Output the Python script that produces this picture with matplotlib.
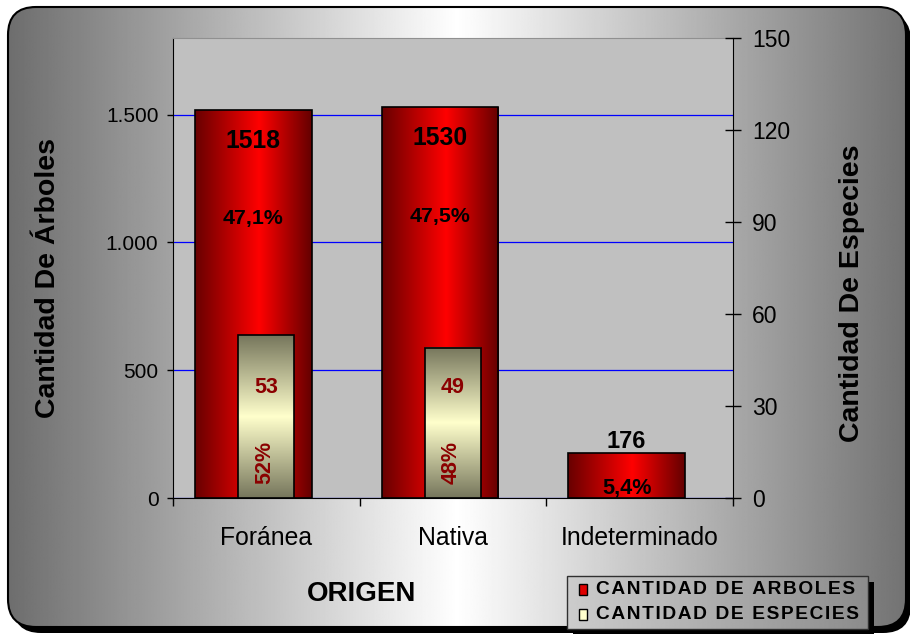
import numpy as np
import matplotlib
matplotlib.use('Agg')
import matplotlib.pyplot as plt
from matplotlib.colors import LinearSegmentedColormap
from matplotlib.patches import FancyBboxPatch, Rectangle

plt.rcParams['font.family'] = ['Liberation Sans', 'DejaVu Sans']

# Data
categories = ['Foránea', 'Nativa', 'Indeterminado']
arboles = [1518, 1530, 176]
arboles_pct = ['47,1%', '47,5%', '5,4%']
especies = [53, 49, 0]
especies_pct = ['52%', '48%', '']
left_ticks = [0, 500, 1000, 1500]
left_tick_labels = ['0', '500', '1.000', '1.500']
right_ticks = [0, 30, 60, 90, 120, 150]

W, H = 910, 634
fig = plt.figure(figsize=(W / 100, H / 100), dpi=100)

# background panel (pixel coords)
bg = fig.add_axes([0, 0, 1, 1], zorder=-1)
bg.axis('off')
shadow = FancyBboxPatch((13, 13), 898, 620, boxstyle='round,pad=0,rounding_size=28',
                        fc='black', ec='none', zorder=1)
bg.add_patch(shadow)
box = FancyBboxPatch((8, 7), 898, 620, boxstyle='round,pad=0,rounding_size=28',
                     fc='none', ec='black', lw=1.5, zorder=3)
bg.add_patch(box)
gx = np.linspace(0, 1, 600)
gv = np.interp(gx, [0, 0.5, 1], [0.43, 1.0, 0.45])
im = bg.imshow(np.tile(gv, (2, 1)), cmap='gray', vmin=0, vmax=1,
               extent=[8, 906, 627, 7], aspect='auto', zorder=2, interpolation='bilinear')
im.set_clip_path(box)

# legend box
lx0, ly0, lx1, ly1 = 567, 576, 868, 629
bg.add_patch(Rectangle((lx0 + 6, ly0 + 6), lx1 - lx0, ly1 - ly0, fc='black', zorder=5))
lv = np.interp(np.linspace(0, 1, 300), [0, 1], [0.80, 0.55])
bg.imshow(np.tile(lv, (2, 1)), cmap='gray', vmin=0, vmax=1,
          extent=[lx0, lx1, ly1, ly0], aspect='auto', zorder=6, interpolation='bilinear')
bg.add_patch(Rectangle((lx0, ly0), lx1 - lx0, ly1 - ly0, fc='none', ec='#303030', lw=1, zorder=7))

def spaced(s):
    return '\u200a'.join(list(s))

for row, (name, col) in enumerate([('CANTIDAD DE ARBOLES', '#e00000'),
                                   ('CANTIDAD DE ESPECIES', '#ffffcc')]):
    yc = 589.5 + row * 25
    bg.add_patch(Rectangle((579, yc - 5.5), 8, 11, fc=col, ec='black', lw=1, zorder=8))
    bg.text(596, yc, spaced(name), ha='left', va='center', fontsize=13.8,
            fontweight='bold', zorder=8)

bg.set_xlim(0, W)
bg.set_ylim(H, 0)

# plot area
ax = fig.add_axes([173 / W, (H - 498) / H, 560 / W, 460 / H])
ax.set_facecolor('#c0c0c0')
ax2 = ax.twinx()

red_cmap = LinearSegmentedColormap.from_list('red', [(0, '#680000'), (0.55, '#ff0000'), (1, '#640000')])
cream_cmap = LinearSegmentedColormap.from_list('cream', [(0, '#76765c'), (0.5, '#ffffcc'), (1, '#76765c')])

def gradient_bar(axis, x, height, width, cmap, vertical, z):
    g = np.linspace(0, 1, 256)
    img = g.reshape(-1, 1) if vertical else g.reshape(1, -1)
    axis.imshow(img, cmap=cmap, extent=[x - width / 2, x + width / 2, 0, height],
                origin='lower', aspect='auto', zorder=z, interpolation='bilinear')
    axis.bar(x, height, width, fc='none', ec='black', lw=1.2, zorder=z + 0.1)

OFF, RW, SW = -0.07, 0.625, 0.30

for i, (v, p) in enumerate(zip(arboles, arboles_pct)):
    xc = i + OFF
    gradient_bar(ax, xc, v, RW, red_cmap, False, 2)
    if v > 500:
        ax.text(xc, v - 120, str(v), ha='center', va='center', fontsize=17.8, fontweight='bold', zorder=5)
        ax.text(xc, v * 0.72, p, ha='center', va='center', fontsize=15.4, fontweight='bold', zorder=5)
    else:
        ax.text(xc, v + 47, str(v), ha='center', va='center', fontsize=17, fontweight='bold', zorder=5)
        ax.text(xc, 41, p, ha='center', va='center', fontsize=15.6, fontweight='bold', zorder=5)

for i, (v, p) in enumerate(zip(especies, especies_pct)):
    if not v:
        continue
    gradient_bar(ax2, i, v, SW, cream_cmap, True, 3)
    ax2.text(i, 36, str(v), ha='center', va='center', fontsize=15.5, fontweight='bold',
             color='#8b0000', zorder=5)
    ax2.text(i - 0.01, 11.5, p, ha='center', va='center', rotation=90, fontsize=15.5,
             fontweight='bold', color='#8b0000', zorder=5)

ax.set_xlim(-0.5, 2.5)
ax.set_ylim(0, 1800)
ax2.set_ylim(0, 150)

ax.set_axisbelow(True)
ax.yaxis.grid(True, color='#0000ff', lw=0.9)
ax.set_xticks([-0.5, 0.5, 1.5, 2.5])
ax.set_xticklabels([])
ax.set_xticks([0, 1, 2], minor=True)
ax.set_xticklabels(categories, minor=True, fontsize=17.8)
ax.tick_params(axis='x', which='major', direction='out', length=6, width=1)
ax.tick_params(axis='x', which='minor', length=0, pad=20)
ax.set_yticks(left_ticks)
ax.set_yticklabels(left_tick_labels)
ax.tick_params(axis='y', direction='out', length=4.5, width=1, pad=6, labelsize=15)
ax2.set_yticks(right_ticks)
ax2.tick_params(axis='y', direction='inout', length=11.5, width=1, pad=8, labelsize=16.5)

ax.spines['right'].set_visible(False)
ax.spines['top'].set_color('#909090')
for s in ['left', 'top', 'bottom']:
    ax2.spines[s].set_visible(False)

fig.text(48 / W, 1 - 278 / H, 'Cantidad De Árboles', rotation=90, ha='center', va='center',
         fontsize=20.5, fontweight='bold')
fig.text(852 / W, 1 - 293 / H, 'Cantidad De Especies', rotation=90, ha='center', va='center',
         fontsize=20.5, fontweight='bold')
fig.text(362 / W, 1 - 594 / H, 'ORIGEN', ha='center', va='center', fontsize=20, fontweight='bold')

fig.savefig('out.png', dpi=100)
